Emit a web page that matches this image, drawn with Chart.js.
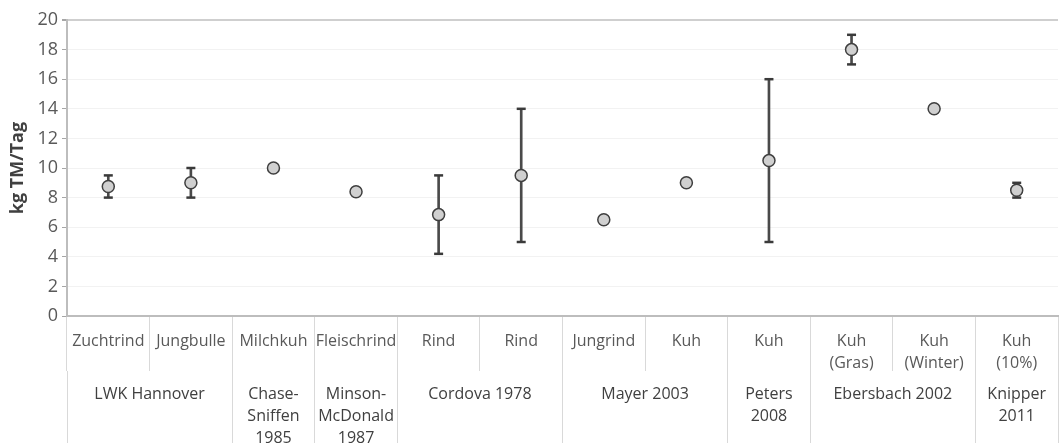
<!DOCTYPE html>
<html>
<head>
<meta charset="utf-8">
<script src="https://cdn.jsdelivr.net/npm/chart.js@4"></script>
<style>
  html, body { margin: 0; padding: 0; background: #fff; }
  #wrap { width: 1060px; height: 443px; }
</style>
</head>
<body>
<div id="wrap"><canvas id="chart" width="1060" height="443"></canvas></div>
<script>
// Kategorien (untere Zeile = Quelle, obere Zeile = Tierart)
const subLabels = ['Zuchtrind', 'Jungbulle', 'Milchkuh', 'Fleischrind', 'Rind', 'Rind',
  'Jungrind', 'Kuh', 'Kuh', ['Kuh', '(Gras)'], ['Kuh', '(Winter)'], ['Kuh', '(10%)']];
const groupNames = ['LWK Hannover', ['Chase-', 'Sniffen', '1985'], ['Minson-', 'McDonald', '1987'],
  'Cordova 1978', 'Mayer 2003', ['Peters', '2008'], 'Ebersbach 2002', ['Knipper', '2011']];
// erste und letzte Kategorie jeder Quelle
const groupSpans = [[0, 1], [2, 2], [3, 3], [4, 5], [6, 7], [8, 8], [9, 10], [11, 11]];

// kg TM/Tag: Mittelwert und Spannweite
const meanValues = [8.75, 9, 10, 8.4, 6.85, 9.5, 6.5, 9, 10.5, 18, 14, 8.5];
const lowValues  = [8, 8, null, null, 4.2, 5, null, null, 5, 17, null, 8];
const highValues = [9.5, 10, null, null, 9.5, 14, null, null, 16, 19, null, 9];

const yMin = 0, yMax = 20, yStep = 2;

Chart.defaults.font.family = "'Open Sans', sans-serif";

const groupCenters = groupSpans.map(s => (s[0] + s[1]) / 2);
const groupBounds = [groupSpans[0][0] - 0.5].concat(groupSpans.map(s => s[1] + 0.5));

const lineColor = '#d9d9d9';
const tickValue = ctx => (ctx && ctx.tick) ? ctx.tick.value : null;

// feste Höhe der Achsenzeilen, kein Rand für überstehende Beschriftungen
function fixAxis(height) {
  return scale => {
    scale.height = height;
    scale.paddingLeft = 0;
    scale.paddingRight = 0;
  };
}

new Chart(document.getElementById('chart'), {
  type: 'bar',
  data: {
    labels: subLabels,
    datasets: [
      {
        type: 'line',
        label: 'Mittelwert',
        data: meanValues,
        xAxisID: 'x',
        showLine: false,
        pointRadius: 6,
        pointBackgroundColor: '#d0d0d0',
        pointBorderColor: '#3f3f3f',
        pointBorderWidth: 1.5,
        order: 0
      },
      {
        type: 'line',
        label: 'max',
        data: highValues,
        xAxisID: 'x',
        showLine: false,
        pointStyle: 'line',
        pointRadius: 4.5,
        borderColor: '#3a3a3a',
        pointBorderColor: '#3a3a3a',
        pointBorderWidth: 2.5,
        order: 1
      },
      {
        type: 'line',
        label: 'min',
        data: lowValues,
        xAxisID: 'x',
        showLine: false,
        pointStyle: 'line',
        pointRadius: 4.5,
        borderColor: '#3a3a3a',
        pointBorderColor: '#3a3a3a',
        pointBorderWidth: 2.5,
        order: 1
      },
      {
        label: 'Spannweite',
        data: lowValues.map((l, i) => l == null ? null : [l, highValues[i]]),
        xAxisID: 'x',
        barThickness: 2,
        backgroundColor: '#4a4a4a',
        order: 2
      }
    ]
  },
  options: {
    responsive: false,
    animation: false,
    layout: { autoPadding: false, padding: { top: 20, right: 2, left: 0, bottom: 0 } },
    plugins: {
      legend: { display: false },
      tooltip: { enabled: false }
    },
    scales: {
      x: {
        type: 'category',
        position: 'bottom',
        weight: 0,
        offset: true,
        border: { color: '#bdbdbd', width: 2 },
        grid: {
          offset: true,
          drawOnChartArea: false,
          tickLength: 55,
          color: lineColor
        },
        ticks: {
          autoSkip: false,
          maxRotation: 0,
          minRotation: 0,
          padding: -41,
          color: '#595959',
          font: { size: 16, lineHeight: 1.375 }
        },
        afterFit: fixAxis(55)
      },
      xg: {
        type: 'linear',
        axis: 'x',
        position: 'bottom',
        weight: 1,
        offset: false,
        min: -0.5,
        max: subLabels.length - 0.5,
        border: { display: false },
        grid: {
          offset: false,
          drawOnChartArea: false,
          tickLength: 72,
          color: ctx => groupCenters.includes(tickValue(ctx)) ? 'rgba(0,0,0,0)' : lineColor
        },
        afterBuildTicks: scale => {
          scale.ticks = groupBounds.concat(groupCenters)
            .sort((a, b) => a - b)
            .map(v => ({ value: v }));
        },
        ticks: {
          autoSkip: false,
          maxRotation: 0,
          minRotation: 0,
          padding: -60,
          color: '#404040',
          font: { size: 16, lineHeight: 1.375 },
          callback: value => {
            const i = groupCenters.indexOf(value);
            return i < 0 ? '' : groupNames[i];
          }
        },
        afterFit: fixAxis(72)
      },
      y: {
        min: yMin,
        max: yMax,
        border: { color: '#bdbdbd', width: 2 },
        grid: {
          color: ctx => tickValue(ctx) === yMax ? '#cfcfcf' : '#f2f2f2',
          lineWidth: ctx => tickValue(ctx) === yMax ? 2 : 1,
          tickLength: 5,
          tickColor: '#a6a6a6'
        },
        ticks: {
          stepSize: yStep,
          padding: 4,
          color: '#595959',
          font: { size: 18 }
        },
        title: {
          display: true,
          text: 'kg TM/Tag',
          color: '#404040',
          font: { size: 18, weight: 'bold' },
          padding: { top: 7, bottom: 0 }
        },
        afterFit: scale => { scale.width = 67; }
      }
    }
  }
});
</script>
</body>
</html>
